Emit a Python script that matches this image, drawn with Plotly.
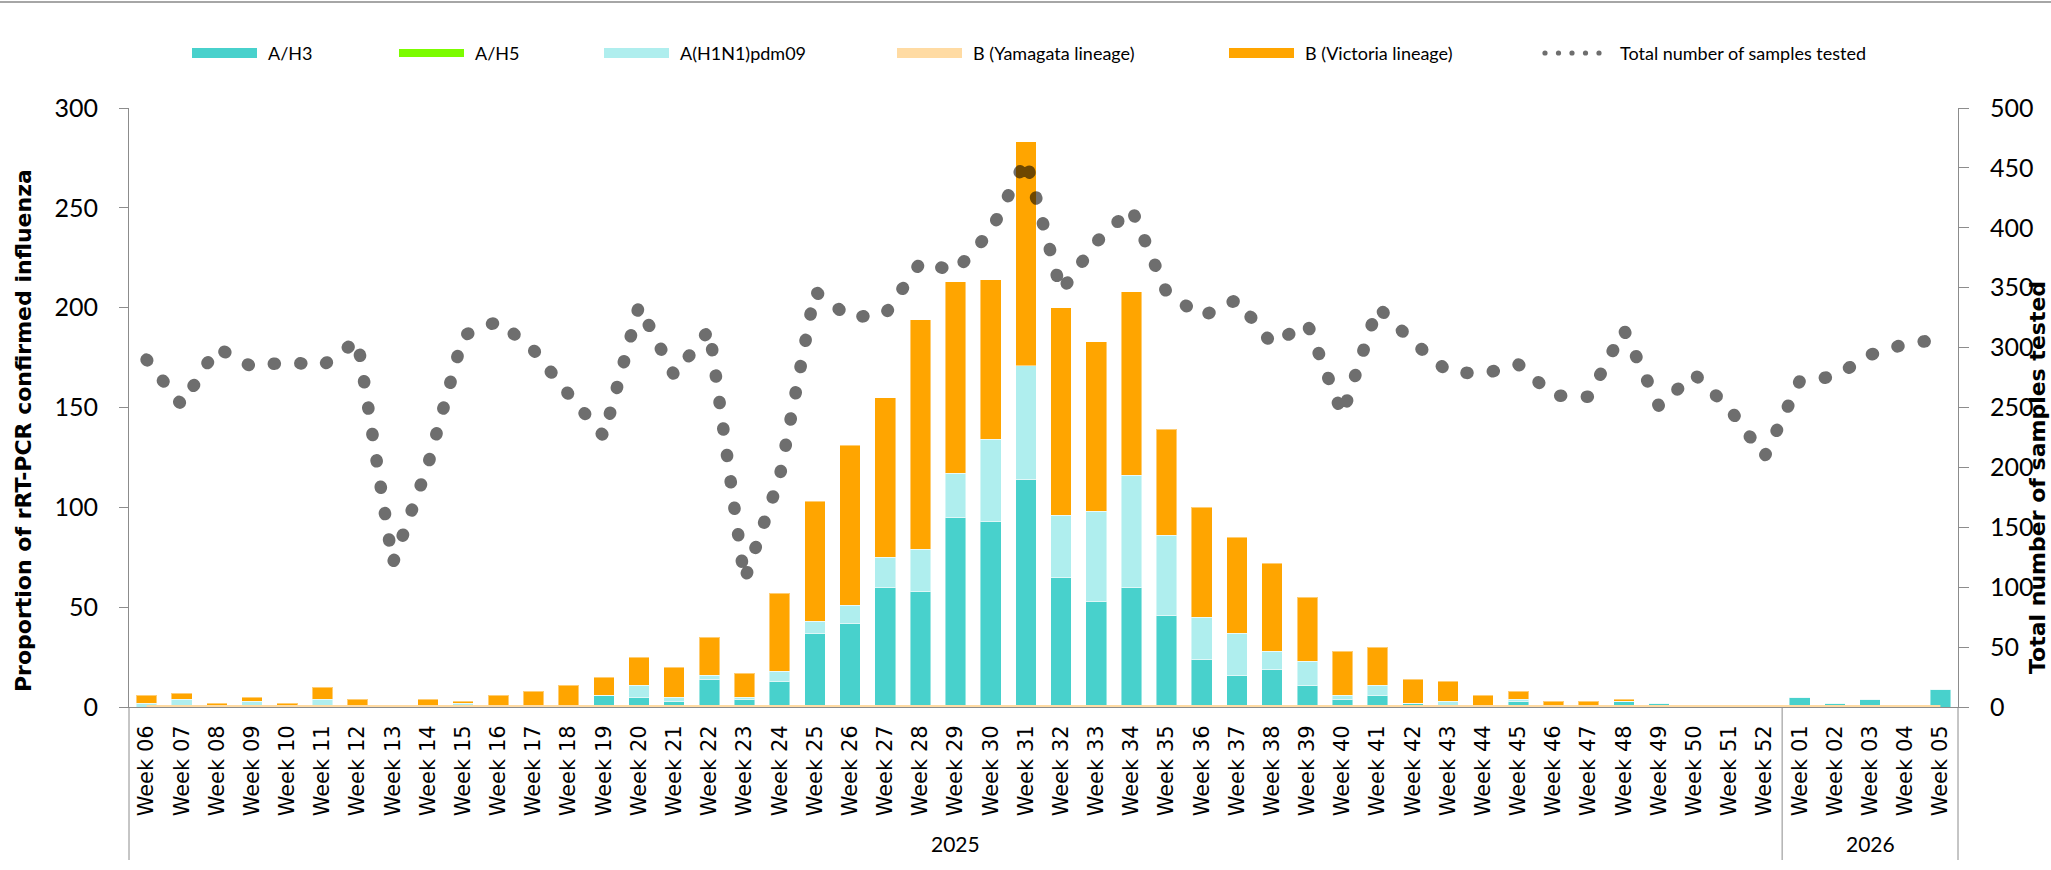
import plotly.graph_objects as go

# ---------------- data ----------------
week_labels = [
    "Week 06", "Week 07", "Week 08", "Week 09", "Week 10", "Week 11", "Week 12", "Week 13",
    "Week 14", "Week 15", "Week 16", "Week 17", "Week 18", "Week 19", "Week 20", "Week 21",
    "Week 22", "Week 23", "Week 24", "Week 25", "Week 26", "Week 27", "Week 28", "Week 29",
    "Week 30", "Week 31", "Week 32", "Week 33", "Week 34", "Week 35", "Week 36", "Week 37",
    "Week 38", "Week 39", "Week 40", "Week 41", "Week 42", "Week 43", "Week 44", "Week 45",
    "Week 46", "Week 47", "Week 48", "Week 49", "Week 50", "Week 51", "Week 52",
    "Week 01", "Week 02", "Week 03", "Week 04", "Week 05",
]
year_labels = [
    "2025", "2025", "2025", "2025", "2025", "2025", "2025", "2025", "2025", "2025",
    "2025", "2025", "2025", "2025", "2025", "2025", "2025", "2025", "2025", "2025",
    "2025", "2025", "2025", "2025", "2025", "2025", "2025", "2025", "2025", "2025",
    "2025", "2025", "2025", "2025", "2025", "2025", "2025", "2025", "2025", "2025",
    "2025", "2025", "2025", "2025", "2025", "2025", "2025",
    "2026", "2026", "2026", "2026", "2026",
]

a_h3 = [0, 0, 0, 0, 0, 0, 0, 0, 0, 0, 0, 0, 0, 6, 5, 3, 14, 4, 13, 37,
        42, 60, 58, 95, 93, 114, 65, 53, 60, 46, 24, 16, 19, 11, 4, 6, 2, 0, 0, 3,
        0, 0, 3, 2, 0, 0, 0, 5, 2, 4, 0, 9]
a_h5 = [0, 0, 0, 0, 0, 0, 0, 0, 0, 0, 0, 0, 0, 0, 0, 0, 0, 0, 0, 0,
        0, 0, 0, 0, 0, 0, 0, 0, 0, 0, 0, 0, 0, 0, 0, 0, 0, 0, 0, 0,
        0, 0, 0, 0, 0, 0, 0, 0, 0, 0, 0, 0]
a_h1n1 = [2, 4, 0, 3, 0, 4, 0, 1, 0, 2, 0, 0, 0, 0, 6, 2, 2, 1, 5, 6,
          9, 15, 21, 22, 41, 57, 31, 45, 56, 40, 21, 21, 9, 12, 2, 5, 0, 3, 0, 1,
          0, 0, 0, 0, 1, 0, 1, 0, 0, 0, 1, 0]
b_yamagata = [0, 0, 0, 0, 0, 0, 0, 0, 0, 0, 0, 0, 0, 0, 0, 0, 0, 0, 0, 0,
              0, 0, 0, 0, 0, 0, 0, 0, 0, 0, 0, 0, 0, 0, 0, 0, 0, 0, 0, 0,
              0, 0, 0, 0, 0, 0, 0, 0, 0, 0, 0, 0]
b_victoria = [4, 3, 2, 2, 2, 6, 4, 0, 4, 1, 6, 8, 11, 9, 14, 15, 19, 12, 39, 60,
              80, 80, 115, 96, 80, 112, 104, 85, 92, 53, 55, 48, 44, 32, 22, 19, 12, 10, 6, 4,
              3, 3, 1, 0, 0, 0, 0, 0, 0, 0, 0, 0]
samples_tested = [290, 252, 300, 284, 288, 285, 306, 120, 202, 310, 322, 298, 261, 226, 335, 277,
                  315, 106, 192, 347, 325, 328, 371, 364, 397, 457, 347, 388, 416, 346, 326, 340,
                  303, 320, 244, 334, 305, 280, 278, 286, 260, 259, 315, 251, 278, 249, 209,
                  272, 276, 294, 303, 307]

names = ["A/H3", "A/H5", "A(H1N1)pdm09", "B (Yamagata lineage)", "B (Victoria lineage)",
         "Total number of samples tested"]
colors = ["#48D1CC", "#7CFC00", "#AFEEEE", "#FFDBA3", "#FFA500", "rgba(0,0,0,0.57)"]

# ---------------- layout geometry (pixels) ----------------
W, H = 2051, 870
PL, PR, PT, PB = 129, 1958, 108, 707


def px_x(px):
    return (px - PL) / (PR - PL)


def px_y(py):
    return (PB - py) / (PB - PT)


bar_line = dict(color="rgba(255,255,255,0.45)", width=1)

fig = go.Figure()
fig.add_trace(go.Bar(x=week_labels, y=a_h3, name=names[0], marker=dict(color=colors[0], line=bar_line)))
fig.add_trace(go.Bar(x=week_labels, y=a_h5, name=names[1], marker=dict(color=colors[1], line=bar_line)))
fig.add_trace(go.Bar(x=week_labels, y=a_h1n1, name=names[2], marker=dict(color=colors[2], line=bar_line)))
fig.add_trace(go.Bar(x=week_labels, y=b_victoria, name=names[4], marker=dict(color=colors[4], line=bar_line)))
fig.add_trace(go.Scatter(x=week_labels, y=b_yamagata, name=names[3], mode="lines",
                         line=dict(color=colors[3], width=4)))
fig.add_trace(go.Scatter(x=week_labels, y=samples_tested, name=names[5], mode="lines", yaxis="y2",
                         line=dict(color=colors[5], width=12.5, dash="1px,25.7px")))

axis_grey = "#8c8c8c"
fig.update_layout(
    width=W, height=H, autosize=False,
    margin=dict(l=PL, r=W - PR, t=PT, b=H - PB, pad=0),
    paper_bgcolor="white", plot_bgcolor="white",
    barmode="stack", bargap=0.415,
    showlegend=False,
    font=dict(family="Lato", color="#000000"),
    xaxis=dict(
        type="category", tickangle=-90,
        tickfont=dict(family="DejaVu Sans", size=21, color="#000000"),
        showline=True, linecolor=axis_grey, linewidth=1,
        ticks="", showgrid=False, ticklabelstandoff=9,
        layer="below traces",
    ),
    yaxis=dict(
        range=[0, 300], dtick=50, showgrid=False, zeroline=False,
        showline=True, linecolor=axis_grey, linewidth=1,
        ticks="outside", ticklen=9, tickcolor=axis_grey,
        tickfont=dict(family="Lato", size=25, color="#000000"),
        ticklabelstandoff=16,
    ),
    yaxis2=dict(
        overlaying="y", side="right", anchor="x",
        range=[0, 500], dtick=50, showgrid=False, zeroline=False,
        showline=True, linecolor=axis_grey, linewidth=1,
        ticks="outside", ticklen=10, tickcolor=axis_grey,
        tickfont=dict(family="Lato", size=25, color="#000000"),
        ticklabelstandoff=16,
    ),
)

# year group labels and dividers on the category axis
n = len(week_labels)
groups = []
for i, yr in enumerate(year_labels):
    if not groups or groups[-1][0] != yr:
        groups.append([yr, i, i])
    else:
        groups[-1][2] = i
for yr, first, last in groups:
    fig.add_annotation(text=yr, xref="x", yref="paper", x=(first + last) / 2, y=px_y(843),
                       showarrow=False, xanchor="center", yanchor="middle",
                       font=dict(family="Lato", size=21, color="#000000"))
boundaries = [0] + [last + 1 for _, _, last in groups]
for b in boundaries:
    fig.add_shape(type="line", xref="paper", yref="paper", x0=b / n, x1=b / n,
                  y0=px_y(PB), y1=px_y(860), line=dict(color=axis_grey, width=1))

# axis titles
fig.add_annotation(text="Proportion of rRT-PCR confirmed influenza", xref="paper", yref="paper",
                   x=px_x(23), y=px_y(431), textangle=-90, showarrow=False,
                   xanchor="center", yanchor="middle",
                   font=dict(family="DejaVu Sans", size=22, weight="bold", color="#000000"))
fig.add_annotation(text="Total number of samples tested", xref="paper", yref="paper",
                   x=px_x(2037), y=px_y(478), textangle=-90, showarrow=False,
                   xanchor="center", yanchor="middle",
                   font=dict(family="DejaVu Sans", size=22, weight="bold", color="#000000"))

# top rule
fig.add_shape(type="line", xref="paper", yref="paper", x0=px_x(0), x1=px_x(W),
              y0=px_y(2), y1=px_y(2), line=dict(color="#A6A6A6", width=2))

# custom legend (one row)
legend_y = 53
swatch_left = [192, 399, 604, 897, 1229]
swatch_h = [10, 8, 10, 10, 10]
for k in range(5):
    x0 = swatch_left[k]
    fig.add_shape(type="rect", xref="paper", yref="paper",
                  x0=px_x(x0), x1=px_x(x0 + 65),
                  y0=px_y(legend_y - swatch_h[k] / 2), y1=px_y(legend_y + swatch_h[k] / 2),
                  fillcolor=colors[k], line=dict(width=0))
    fig.add_annotation(text=names[k], xref="paper", yref="paper", x=px_x(x0 + 74), y=px_y(legend_y),
                       xanchor="left", yanchor="middle", showarrow=False,
                       font=dict(family="Lato", size=18, color="#000000"))
for d in range(5):
    cx = 1545 + d * 13.5
    fig.add_shape(type="circle", xref="paper", yref="paper",
                  x0=px_x(cx - 2.6), x1=px_x(cx + 2.6), y0=px_y(legend_y - 2.6), y1=px_y(legend_y + 2.6),
                  fillcolor="#6e6e6e", line=dict(width=0))
fig.add_annotation(text=names[5], xref="paper", yref="paper", x=px_x(1618), y=px_y(legend_y),
                   xanchor="left", yanchor="middle", showarrow=False,
                   font=dict(family="Lato", size=18, color="#000000"))

post = """
document.body.style.margin = '0';
document.querySelectorAll('.scatterlayer .js-line').forEach(function(p){
  var d = p.style.strokeDasharray;
  if (d && d !== 'none') { p.style.strokeLinecap = 'round'; }
});
"""

fig.write_html("out.html", post_script=post, config={"displayModeBar": False})
